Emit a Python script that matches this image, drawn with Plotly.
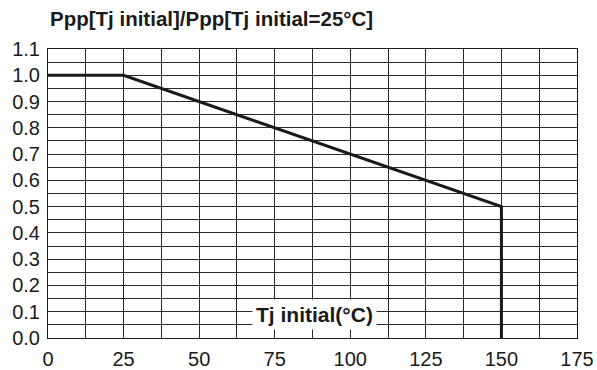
import plotly.graph_objects as go

# Data
tj_initial = [0, 25, 150, 150]
ppp_ratio = [1.0, 1.0, 0.5, 0.0]
x_ticks = [0, 25, 50, 75, 100, 125, 150, 175]
y_ticks = [0.0, 0.1, 0.2, 0.3, 0.4, 0.5, 0.6, 0.7, 0.8, 0.9, 1.0, 1.1]

FONT = "Liberation Sans, Arial, sans-serif"
GRID = "#2a2a2a"

fig = go.Figure()
fig.add_trace(go.Scatter(
    x=tj_initial, y=ppp_ratio, mode="lines",
    line=dict(color="#1a1a1a", width=3),
    hoverinfo="skip", showlegend=False,
))

fig.update_layout(
    width=597, height=370,
    margin=dict(l=48, r=20, t=49, b=32, autoexpand=False),
    paper_bgcolor="white", plot_bgcolor="white",
    font=dict(family=FONT, color="#1a1a1a", size=20),
    xaxis=dict(
        range=[0, 175], tickvals=x_ticks, ticktext=[str(v) for v in x_ticks],
        showgrid=True, gridcolor=GRID, gridwidth=1,
        minor=dict(dtick=12.5, tick0=0, showgrid=True, gridcolor=GRID, gridwidth=1),
        showline=True, linecolor="#1a1a1a", linewidth=1, mirror=True,
        ticks="", zeroline=False, fixedrange=True, automargin=False,
        tickfont=dict(size=20), ticklabelstandoff=3,
    ),
    yaxis=dict(
        range=[0, 1.1], tickvals=y_ticks, ticktext=[f"{v:.1f}" for v in y_ticks],
        showgrid=True, gridcolor=GRID, gridwidth=1,
        minor=dict(dtick=0.05, tick0=0, showgrid=True, gridcolor=GRID, gridwidth=1),
        showline=True, linecolor="#1a1a1a", linewidth=1, mirror=True,
        ticks="", zeroline=False, fixedrange=True, automargin=False,
        tickfont=dict(size=20), ticklabelstandoff=3,
    ),
    annotations=[
        dict(text="<b>Ppp[Tj initial]/Ppp[Tj initial=25°C]</b>",
             xref="paper", yref="paper", x=0, y=1, xanchor="left", yanchor="middle",
             yshift=31, showarrow=False, font=dict(family=FONT, size=20.5, color="#1a1a1a")),
        dict(text="<b>Tj initial(°C)</b>",
             xref="x", yref="y", x=88.3, y=0.089, xanchor="center", yanchor="middle",
             showarrow=False, bgcolor="white", borderpad=3,
             font=dict(family=FONT, size=21, color="#1a1a1a")),
    ],
)

fig.write_html("out.html")
